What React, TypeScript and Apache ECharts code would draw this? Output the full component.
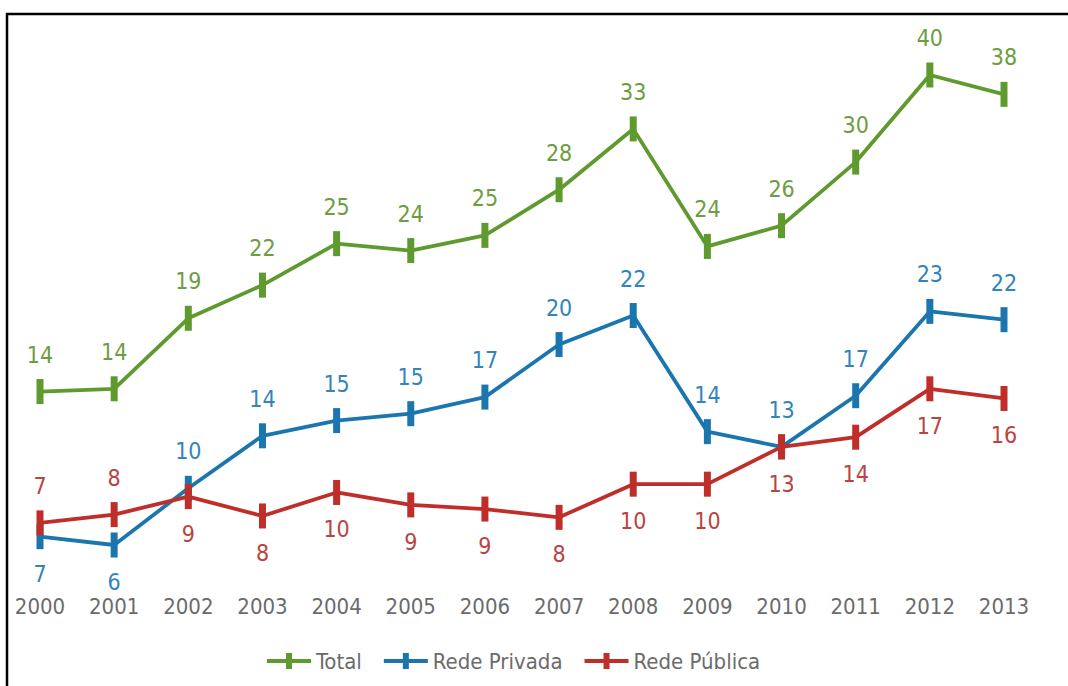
import React, { useEffect, useRef } from "react";
import * as echarts from "echarts";

const years = ["2000", "2001", "2002", "2003", "2004", "2005", "2006", "2007", "2008", "2009", "2010", "2011", "2012", "2013"];

// plotted positions
const totalValues = [17.1, 17.3, 22.4, 24.8, 27.8, 27.3, 28.4, 31.7, 36.1, 27.6, 29.1, 33.7, 40.0, 38.6];
const privadaValues = [6.6, 6.0, 10.1, 13.9, 15.0, 15.5, 16.7, 20.5, 22.6, 14.2, 13.1, 16.8, 22.9, 22.3];
const publicaValues = [7.6, 8.2, 9.5, 8.1, 9.8, 8.9, 8.6, 8.0, 10.4, 10.4, 13.1, 13.8, 17.3, 16.6];

// printed labels
const totalLabels = [14, 14, 19, 22, 25, 24, 25, 28, 33, 24, 26, 30, 40, 38];
const privadaLabels = [7, 6, 10, 14, 15, 15, 17, 20, 22, 14, 13, 17, 23, 22];
const publicaLabels = [7, 8, 9, 8, 10, 9, 9, 8, 10, 10, 13, 14, 17, 16];

const privadaBelow = [0, 1];
const publicaAbove = [0, 1];

const FONT = "'DejaVu Sans Condensed', 'DejaVu Sans', sans-serif";
const LEGEND_ICON = "path://M0,6H44V10H0Z M19,0H25V16H19Z";

export default function App() {
  const ref = useRef<HTMLDivElement>(null);
  useEffect(() => {
    const chart = echarts.init(ref.current!, null, { renderer: "svg" });
    const mk = (
      name: string,
      values: number[],
      labels: number[],
      color: string,
      labelColor: string,
      posFn: (i: number) => string
    ) => ({
      name,
      type: "line",
      data: values.map((v, i) => ({
        value: v,
        label: { position: posFn(i) },
      })),
      symbol: "rect",
      symbolSize: [7, 25],
      showAllSymbol: true,
      lineStyle: { color, width: 3.8 },
      itemStyle: { color },
      label: {
        show: true,
        distance: 13,
        color: labelColor,
        fontSize: 23,
        fontFamily: FONT,
        formatter: (p: any) => String(labels[p.dataIndex]),
      },
    });
    chart.setOption({
      animation: false,
      backgroundColor: "#ffffff",
      grid: { left: 40, right: 64, top: 5.88, bottom: 99.53 },
      xAxis: {
        type: "category",
        data: years,
        boundaryGap: false,
        axisLine: { show: false },
        axisTick: { show: false },
        axisLabel: { color: "#6b6b6b", fontSize: 22, fontFamily: FONT, margin: 9, interval: 0 },
      },
      yAxis: {
        type: "value",
        min: 3,
        max: 45,
        show: false,
        splitLine: { show: false },
      },
      legend: {
        left: 262,
        top: 645,
        itemWidth: 44,
        itemHeight: 16,
        itemGap: 22,
        textStyle: { color: "#6b6b6b", fontSize: 22, fontFamily: FONT },
        data: [
          { name: "Total", icon: LEGEND_ICON },
          { name: "Rede Privada", icon: LEGEND_ICON },
          { name: "Rede Pública", icon: LEGEND_ICON },
        ],
      },
      graphic: [
        {
          type: "rect",
          shape: { x: 7, y: 14, width: 1200, height: 800 },
          style: { fill: "none", stroke: "#000000", lineWidth: 2.5 },
          silent: true,
        },
      ],
      series: [
        mk("Total", totalValues, totalLabels, "#5f9a2e", "#6d9d40", () => "top"),
        mk("Rede Privada", privadaValues, privadaLabels, "#1b76b0", "#3384ba", (i) =>
          privadaBelow.includes(i) ? "bottom" : "top"
        ),
        mk("Rede Pública", publicaValues, publicaLabels, "#bf2e29", "#b9443f", (i) =>
          publicaAbove.includes(i) ? "top" : "bottom"
        ),
      ],
    });
    return () => chart.dispose();
  }, []);
  return (
    <div
      ref={ref}
      style={{ position: "absolute", left: 0, top: 0, width: 1068, height: 686 }}
    />
  );
}
